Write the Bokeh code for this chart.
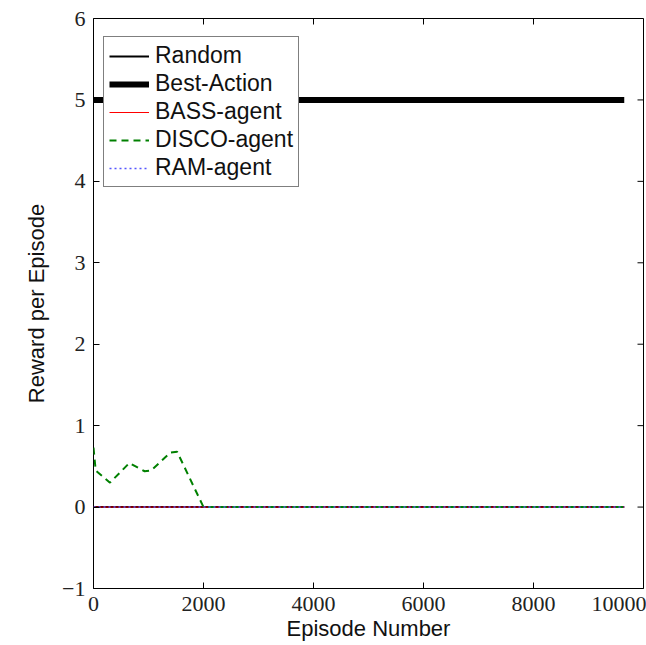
import math
from bokeh.plotting import figure
from bokeh.models import Range1d, FixedTicker, Legend, LegendItem
from bokeh.embed import file_html
from bokeh.resources import INLINE

# Data
random_x = [0, 9650]
random_y = [0, 0]
best_x = [0, 9650]
best_y = [5, 5]
bass_x = [0, 9650]
bass_y = [0, 0]
disco_x = [0, 40, 300, 650, 930, 1050, 1400, 1520, 2000, 9650]
disco_y = [0.73, 0.45, 0.30, 0.54, 0.44, 0.45, 0.67, 0.68, 0.0, 0.0]
ram_x = [0, 9650]
ram_y = [0, 0]
x_ticks = [0, 2000, 4000, 6000, 8000, 10000]
y_ticks = [-1, 0, 1, 2, 3, 4, 5, 6]
x_min, x_max = 0, 10000
y_min, y_max = -1, 6

p = figure(width=646, height=645, output_backend="svg", toolbar_location=None,
           x_range=Range1d(x_min, x_max), y_range=Range1d(y_min, y_max),
           min_border_left=93, min_border_right=3, min_border_top=18, min_border_bottom=57)
p.grid.visible = False
p.outline_line_color = "black"
p.outline_line_width = 1
p.background_fill_color = "white"
p.border_fill_color = "white"

tick_font = "Liberation Serif"
for ax in [p.xaxis[0], p.yaxis[0]]:
    ax.axis_line_color = None
    ax.major_tick_in = 6
    ax.major_tick_out = 0
    ax.minor_tick_line_color = None
    ax.major_label_text_font = tick_font
    ax.major_label_text_font_size = "22px"
    ax.major_label_text_color = "#222222"
    ax.axis_label_text_font = "Liberation Sans"
    ax.axis_label_text_font_size = "22px"
    ax.axis_label_text_font_style = "normal"
    ax.axis_label_text_color = "#111111"

p.xaxis[0].ticker = FixedTicker(ticks=x_ticks)
p.yaxis[0].ticker = FixedTicker(ticks=y_ticks)
p.yaxis[0].major_label_overrides = {-1: "\u22121"}
p.xaxis[0].axis_label = "Episode Number"
p.yaxis[0].axis_label = "Reward per Episode"
p.xaxis[0].major_label_standoff = 8
p.xaxis[0].axis_label_standoff = 2
p.yaxis[0].major_label_standoff = 8
p.yaxis[0].axis_label_standoff = 10

# mirrored inward ticks on top and right edges
p.ray(x=x_ticks, y=[y_max] * len(x_ticks), length=6, length_units="screen",
      angle=-math.pi / 2, line_color="black", line_width=1)
p.ray(x=[x_max] * len(y_ticks), y=y_ticks, length=6, length_units="screen",
      angle=math.pi, line_color="black", line_width=1)

r_random = p.line(random_x, random_y, line_color="black", line_width=2)
r_best = p.line(best_x, best_y, line_color="black", line_width=6)
r_bass = p.line(bass_x, bass_y, line_color="red", line_width=1)
r_disco = p.line(disco_x, disco_y, line_color="#008000", line_width=2, line_dash="7 5")
r_ram = p.line(ram_x, ram_y, line_color="#5555ff", line_width=1.5, line_dash="2 3")

legend = Legend(items=[
    LegendItem(label="Random", renderers=[r_random]),
    LegendItem(label="Best-Action", renderers=[r_best]),
    LegendItem(label="BASS-agent", renderers=[r_bass]),
    LegendItem(label="DISCO-agent", renderers=[r_disco]),
    LegendItem(label="RAM-agent", renderers=[r_ram]),
], location=(10, 401))
legend.margin = 0
legend.padding = 5
legend.spacing = 1
legend.glyph_width = 40
legend.glyph_height = 24
legend.label_standoff = 6
legend.label_text_font = "Liberation Sans"
legend.label_text_font_size = "23px"
legend.label_text_color = "#111111"
legend.border_line_color = "black"
legend.border_line_width = 1
legend.background_fill_alpha = 1.0
p.add_layout(legend, "center")

open("out.html", "w").write(file_html(p, INLINE))
